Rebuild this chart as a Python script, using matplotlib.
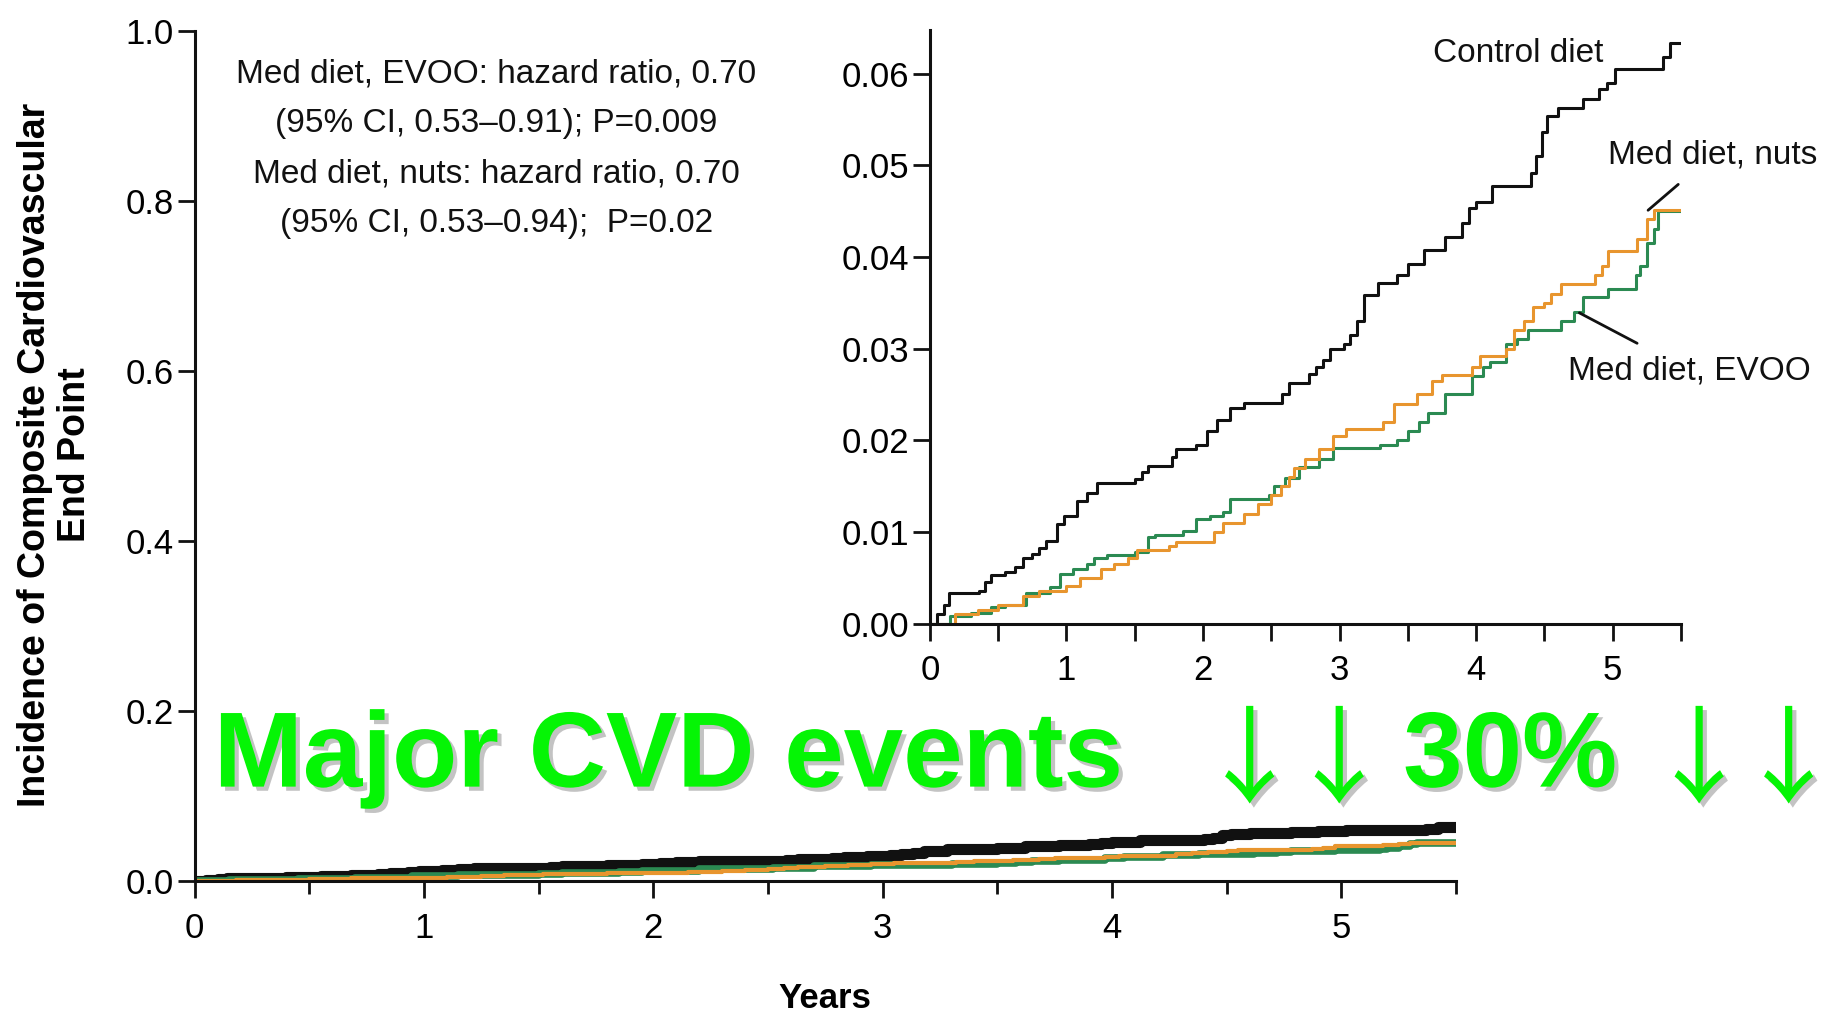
import matplotlib
matplotlib.use("Agg")
import matplotlib.pyplot as plt
import matplotlib.patheffects as pe
import numpy as np

# Kaplan-Meier style cumulative incidence
control_x = [0, 0.05, 0.10, 0.14, 0.36, 0.40, 0.45, 0.55, 0.62, 0.68, 0.75, 0.80, 0.85, 0.93, 0.98,
             1.08, 1.15, 1.22, 1.50, 1.55, 1.60, 1.77, 1.80, 1.95, 2.03, 2.10, 2.20, 2.30, 2.58, 2.63,
             2.78, 2.83, 2.88, 2.93, 3.03, 3.08, 3.13, 3.18, 3.28, 3.42, 3.50, 3.62, 3.77, 3.90, 3.95,
             4.00, 4.12, 4.40, 4.44, 4.48, 4.52, 4.60, 4.78, 4.90, 4.96, 5.02, 5.07, 5.37, 5.42, 5.5]
control_y = [0, 0.001, 0.002, 0.0033, 0.0036, 0.0045, 0.0053, 0.0056, 0.0062, 0.0072, 0.0076, 0.0082, 0.009, 0.0109, 0.0117,
             0.0134, 0.0142, 0.0153, 0.0158, 0.0165, 0.0172, 0.0182, 0.019, 0.0195, 0.021, 0.0222, 0.0235, 0.0241, 0.025, 0.0262,
             0.0272, 0.028, 0.0288, 0.030, 0.0305, 0.0315, 0.033, 0.0358, 0.0372, 0.038, 0.0392, 0.0408, 0.0422, 0.0437, 0.0453,
             0.046, 0.0477, 0.0492, 0.051, 0.0536, 0.0554, 0.0563, 0.0572, 0.0583, 0.059, 0.0605, 0.0605, 0.0618, 0.0633, 0.0633]

nuts_x = [0, 0.18, 0.35, 0.50, 0.68, 0.80, 1.00, 1.10, 1.25, 1.35, 1.45, 1.52, 1.75, 1.80, 2.08,
          2.15, 2.30, 2.40, 2.50, 2.57, 2.63, 2.67, 2.75, 2.85, 2.95, 3.05, 3.32, 3.40, 3.57, 3.68,
          3.75, 3.97, 4.03, 4.22, 4.28, 4.35, 4.42, 4.50, 4.55, 4.62, 4.87, 4.92, 4.97, 5.18, 5.25,
          5.30, 5.5]
nuts_y = [0, 0.001, 0.0015, 0.002, 0.003, 0.0035, 0.0041, 0.005, 0.006, 0.0065, 0.0072, 0.008, 0.0085, 0.0089, 0.01,
          0.011, 0.012, 0.013, 0.014, 0.015, 0.016, 0.017, 0.018, 0.019, 0.0205, 0.0212, 0.022, 0.024, 0.025, 0.0265,
          0.0271, 0.028, 0.0292, 0.030, 0.032, 0.033, 0.0345, 0.035, 0.036, 0.037, 0.038, 0.039, 0.0407, 0.042, 0.0441,
          0.0451, 0.0451]

evoo_x = [0, 0.15, 0.30, 0.45, 0.55, 0.70, 0.88, 0.95, 1.05, 1.15, 1.20, 1.30, 1.50, 1.60, 1.65,
          1.85, 1.95, 2.05, 2.15, 2.20, 2.48, 2.52, 2.60, 2.70, 2.85, 2.95, 3.30, 3.42, 3.50, 3.58,
          3.65, 3.77, 3.97, 4.05, 4.10, 4.22, 4.30, 4.38, 4.62, 4.72, 4.78, 4.97, 5.17, 5.20, 5.25,
          5.30, 5.33, 5.5]
evoo_y = [0, 0.0008, 0.0012, 0.0018, 0.002, 0.0033, 0.004, 0.0054, 0.006, 0.0065, 0.0071, 0.0075, 0.0078, 0.0094, 0.0097,
          0.0101, 0.0114, 0.0117, 0.0122, 0.0136, 0.014, 0.015, 0.0159, 0.0171, 0.018, 0.0191, 0.0195, 0.020, 0.021, 0.022,
          0.023, 0.025, 0.027, 0.028, 0.0285, 0.0305, 0.031, 0.032, 0.033, 0.034, 0.0356, 0.0365, 0.038, 0.039, 0.0415,
          0.043, 0.045, 0.045]

main_yticks = [0.0, 0.2, 0.4, 0.6, 0.8, 1.0]
inset_yticks = [0.00, 0.01, 0.02, 0.03, 0.04, 0.05, 0.06]
year_ticks = [0, 1, 2, 3, 4, 5]

BLACK = "#111111"
ORANGE = "#e8952e"
GREEN = "#2b8a52"
LIME = "#05f505"

plt.rcParams["font.family"] = ["Liberation Sans", "DejaVu Sans"]

fig = plt.figure(figsize=(18.27, 10.15), dpi=100)


def style_axes(ax, yticks, yfmt, ylim):
    for s in ["top", "right"]:
        ax.spines[s].set_visible(False)
    for s in ["left", "bottom"]:
        ax.spines[s].set_linewidth(2.2)
        ax.spines[s].set_color("#111111")
    ax.set_xlim(0, 5.5)
    ax.set_ylim(*ylim)
    ax.set_xticks(year_ticks)
    ax.set_xticks(np.arange(0.5, 5.6, 0.5), minor=True)
    ax.set_yticks(yticks)
    ax.set_yticklabels([yfmt.format(v) for v in yticks])
    ax.tick_params(axis="both", which="major", direction="out", length=12, width=2,
                   labelsize=25, color="#111111")
    ax.tick_params(axis="x", which="minor", direction="out", length=12, width=2, color="#111111")
    ax.tick_params(axis="x", which="major", pad=10)
    ax.tick_params(axis="y", which="major", pad=3)
    ax.patch.set_alpha(0)


# main plot
ax = fig.add_axes([0.1065, 0.132, 0.6905, 0.837])
style_axes(ax, main_yticks, "{:.1f}", (0, 1.0))
ax.tick_params(axis="x", which="minor", length=9)
ax.step(control_x, control_y, where="post", color=BLACK, lw=8, solid_capstyle="butt")
ax.step(evoo_x, evoo_y, where="post", color=GREEN, lw=5.5)
ax.step(nuts_x, nuts_y, where="post", color=ORANGE, lw=3)

fig.text(0.4515, 0.016, "Years", ha="center", va="center", fontsize=25, fontweight="bold")

fig.text(0.030, 0.552, "Incidence of Composite Cardiovascular\nEnd Point", rotation=90,
         ha="center", va="center", fontsize=27, fontweight="bold", linespacing=1.15)

ax.text(0.239, 0.968,
        "Med diet, EVOO: hazard ratio, 0.70\n(95% CI, 0.53\u20130.91); P=0.009\n"
        "Med diet, nuts: hazard ratio, 0.70\n(95% CI, 0.53\u20130.94);  P=0.02",
        transform=ax.transAxes, ha="center", va="top", fontsize=24, linespacing=1.78,
        color="#111111")

# inset
ins = fig.add_axes([0.509, 0.3857, 0.411, 0.585])
style_axes(ins, inset_yticks, "{:.2f}", (0, 0.0648))
ins.step(control_x, control_y, where="post", color=BLACK, lw=2.2)
ins.step(evoo_x, evoo_y, where="post", color=GREEN, lw=2.2)
ins.step(nuts_x, nuts_y, where="post", color=ORANGE, lw=2.2)

ins.text(4.31, 0.0622, "Control diet", fontsize=24, ha="center", va="center", color="#111111")
ins.annotate("Med diet, nuts", xy=(5.26, 0.0451), xytext=(5.73, 0.0511),
             fontsize=24, ha="center", va="center", color="#111111", annotation_clip=False,
             arrowprops=dict(arrowstyle="-", color="#111111", lw=2, shrinkA=12, shrinkB=0))
ins.annotate("Med diet, EVOO", xy=(4.757, 0.0339), xytext=(5.56, 0.0276),
             fontsize=24, ha="center", va="center", color="#111111", annotation_clip=False,
             arrowprops=dict(arrowstyle="-", color="#111111", lw=2, shrinkA=14, shrinkB=0))

# big green callout
shadow = [pe.SimplePatchShadow(offset=(3, -3), shadow_rgbFace="#888888", alpha=0.5), pe.Normal()]
big = dict(color=LIME, fontweight="bold", fontsize=77, va="baseline", path_effects=shadow)
fig.text(0.117, 0.225, "Major CVD events", ha="left", **big)
fig.text(0.768, 0.225, "30%", ha="left", **big)
arrow = dict(color=LIME, fontsize=76, va="center", ha="center",
             family=["Noto Sans CJK SC", "DejaVu Sans"], path_effects=shadow)
for xa in [0.684, 0.733, 0.930, 0.979]:
    fig.text(xa, 0.247, "\u2193", **arrow)

fig.savefig("out.png", dpi=100, facecolor="white")
